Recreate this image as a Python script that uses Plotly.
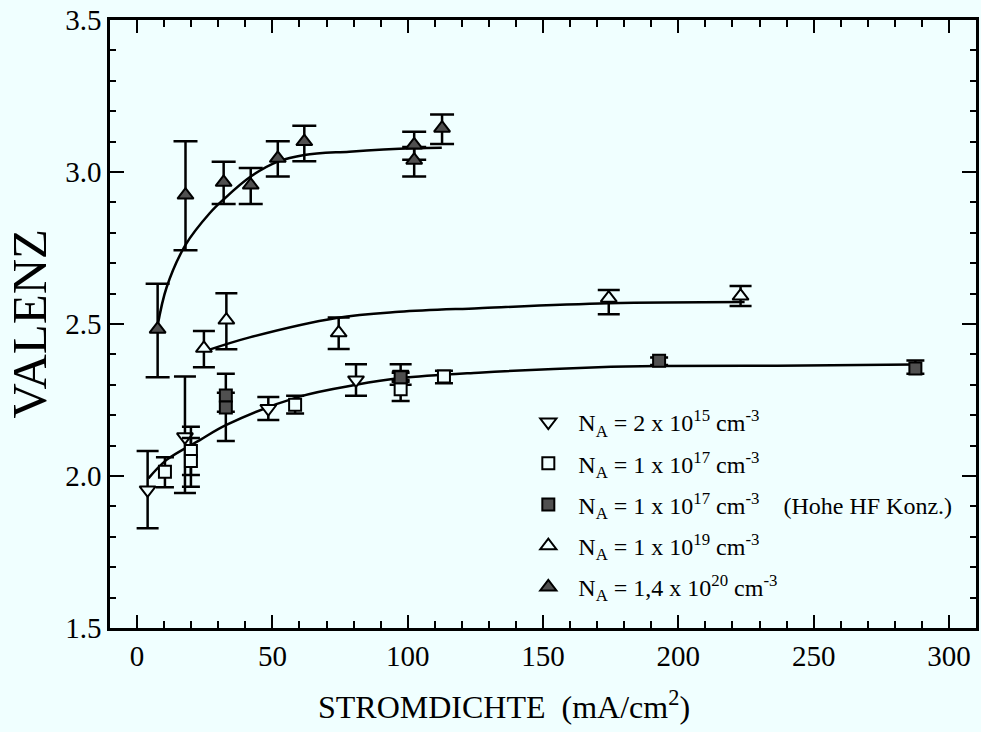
import plotly.graph_objects as go

# ---- data ----
down_x = [3.9, 17.7, 48.5, 80.9, 97.4]
down_y = [1.954, 2.129, 2.222, 2.316, 2.335]
down_hi = [2.082, 2.327, 2.260, 2.368, 2.368]
down_lo = [1.828, 1.944, 2.184, 2.264, 2.300]

sq_x = [10.3, 19.9, 19.9, 58.4, 97.4, 113.4]
sq_y = [2.014, 2.082, 2.049, 2.234, 2.285, 2.327]
sq_hi = [2.062, 2.162, 2.125, 2.264, 2.316, 2.346]
sq_lo = [1.963, 2.003, 1.965, 2.206, 2.247, 2.305]

fsq_x = [32.8, 32.8, 97.4, 192.9, 287.6]
fsq_y = [2.265, 2.225, 2.325, 2.379, 2.354]
fsq_hi = [2.336, 2.274, 2.340, 2.390, 2.380]
fsq_lo = [2.211, 2.115, 2.310, 2.365, 2.336]

tri_x = [24.7, 33.0, 74.5, 174.3, 223.0]
tri_y = [2.420, 2.513, 2.471, 2.585, 2.592]
tri_hi = [2.477, 2.601, 2.521, 2.612, 2.625]
tri_lo = [2.358, 2.417, 2.418, 2.532, 2.559]

ftri_x = [7.6, 17.9, 32.0, 42.0, 52.0, 61.8, 102.4, 102.4, 112.7]
ftri_y = [2.483, 2.924, 2.966, 2.957, 3.045, 3.100, 3.089, 3.039, 3.144]
ftri_hi = [2.632, 3.101, 3.034, 3.013, 3.101, 3.152, 3.132, 3.082, 3.189]
ftri_lo = [2.325, 2.743, 2.895, 2.895, 2.985, 3.035, 3.040, 2.985, 3.092]

fitA_x = [7.5, 10.9, 17.9, 26.9, 32.0, 42.0, 52.0, 61.8, 78.4, 102.4, 112.6]
fitA_y = [2.49, 2.62, 2.76, 2.865, 2.91, 2.985, 3.034, 3.056, 3.067, 3.078, 3.080]

fitB_x = [26.2, 41.6, 73.7, 96.8, 126.2, 174.3, 224.5]
fitB_y = [2.414, 2.456, 2.520, 2.540, 2.552, 2.568, 2.572]

fitC_x = [4.2, 10.9, 23.2, 33.0, 60.0, 80.9, 97.4, 126.2, 170.4, 192.9, 236.7, 287.0]
fitC_y = [1.992, 2.053, 2.118, 2.168, 2.261, 2.300, 2.322, 2.340, 2.358, 2.362, 2.363, 2.367]

labels = [
    "N<sub>A</sub> = 2 x 10<sup>15</sup> cm<sup>-3</sup>",
    "N<sub>A</sub> = 1 x 10<sup>17</sup> cm<sup>-3</sup>",
    "N<sub>A</sub> = 1 x 10<sup>17</sup> cm<sup>-3</sup>\u00a0\u00a0\u00a0\u00a0(Hohe HF Konz.)",
    "N<sub>A</sub> = 1 x 10<sup>19</sup> cm<sup>-3</sup>",
    "N<sub>A</sub> = 1,4 x 10<sup>20</sup> cm<sup>-3</sup>",
]

BG = "#F0FFFF"
FILL = "#505050"
SERIF = "Liberation Serif, Times New Roman, serif"

fig = go.Figure()

for fx, fy in [(fitA_x, fitA_y), (fitB_x, fitB_y), (fitC_x, fitC_y)]:
    fig.add_trace(go.Scatter(x=fx, y=fy, mode="lines",
                             line=dict(color="black", width=2.5, shape="spline", smoothing=1.0),
                             showlegend=False, hoverinfo="skip"))

series = [
    (down_x, down_y, down_hi, down_lo, "triangle-down", 14, BG, 11),
    (sq_x, sq_y, sq_hi, sq_lo, "square", 12, BG, 9),
    (fsq_x, fsq_y, fsq_hi, fsq_lo, "square", 12, FILL, 9),
    (tri_x, tri_y, tri_hi, tri_lo, "triangle-up", 14, BG, 11),
    (ftri_x, ftri_y, ftri_hi, ftri_lo, "triangle-up", 14, FILL, 12),
]

for i, (xs, ys, hi, lo, sym, size, fill, capw) in enumerate(series):
    fig.add_trace(go.Scatter(
        x=xs, y=ys, mode="markers", name=labels[i], legendgroup=f"g{i}",
        marker=dict(symbol=sym, size=size, color=fill, line=dict(color="black", width=2)),
        error_y=dict(type="data", symmetric=False,
                     array=[h - y for h, y in zip(hi, ys)],
                     arrayminus=[y - l for l, y in zip(lo, ys)],
                     color="black", thickness=2.5, width=capw),
    ))

axis_common = dict(showline=True, linecolor="black", linewidth=2.5, mirror="allticks",
                   ticks="inside", tickcolor="black", tickwidth=2, showgrid=False,
                   zeroline=False, tickfont=dict(family=SERIF, size=29, color="black"))

fig.update_xaxes(range=[-10, 310], tick0=0, dtick=50, ticklen=13,
                 minor=dict(dtick=10, ticks="inside", ticklen=7, tickcolor="black", tickwidth=2),
                 **axis_common)
fig.update_yaxes(range=[1.5, 3.5], tick0=1.5, dtick=0.5, tickformat=".1f", ticklen=14,
                 minor=dict(dtick=0.1, ticks="inside", ticklen=6, tickcolor="black", tickwidth=2),
                 **axis_common)

fig.add_annotation(text="STROMDICHTE  (mA/cm<sup>2</sup>)", xref="paper", yref="paper",
                   x=0.4545, y=-0.127, xanchor="center", yanchor="middle", showarrow=False,
                   font=dict(family=SERIF, size=32, color="black"))
fig.add_annotation(text="VALENZ", xref="paper", yref="paper", textangle=-90,
                   x=-0.094, y=0.5, xanchor="center", yanchor="middle", showarrow=False,
                   font=dict(family=SERIF, size=49, color="black"))

fig.update_layout(
    width=981, height=732,
    margin=dict(l=110, r=2, t=20, b=104),
    paper_bgcolor=BG, plot_bgcolor=BG,
    legend=dict(x=0.4715, y=0.375, xanchor="left", yanchor="top",
                bgcolor="rgba(0,0,0,0)", font=dict(family=SERIF, size=24, color="black"),
                tracegroupgap=7, itemwidth=50),
)

fig.write_html("out.html")
